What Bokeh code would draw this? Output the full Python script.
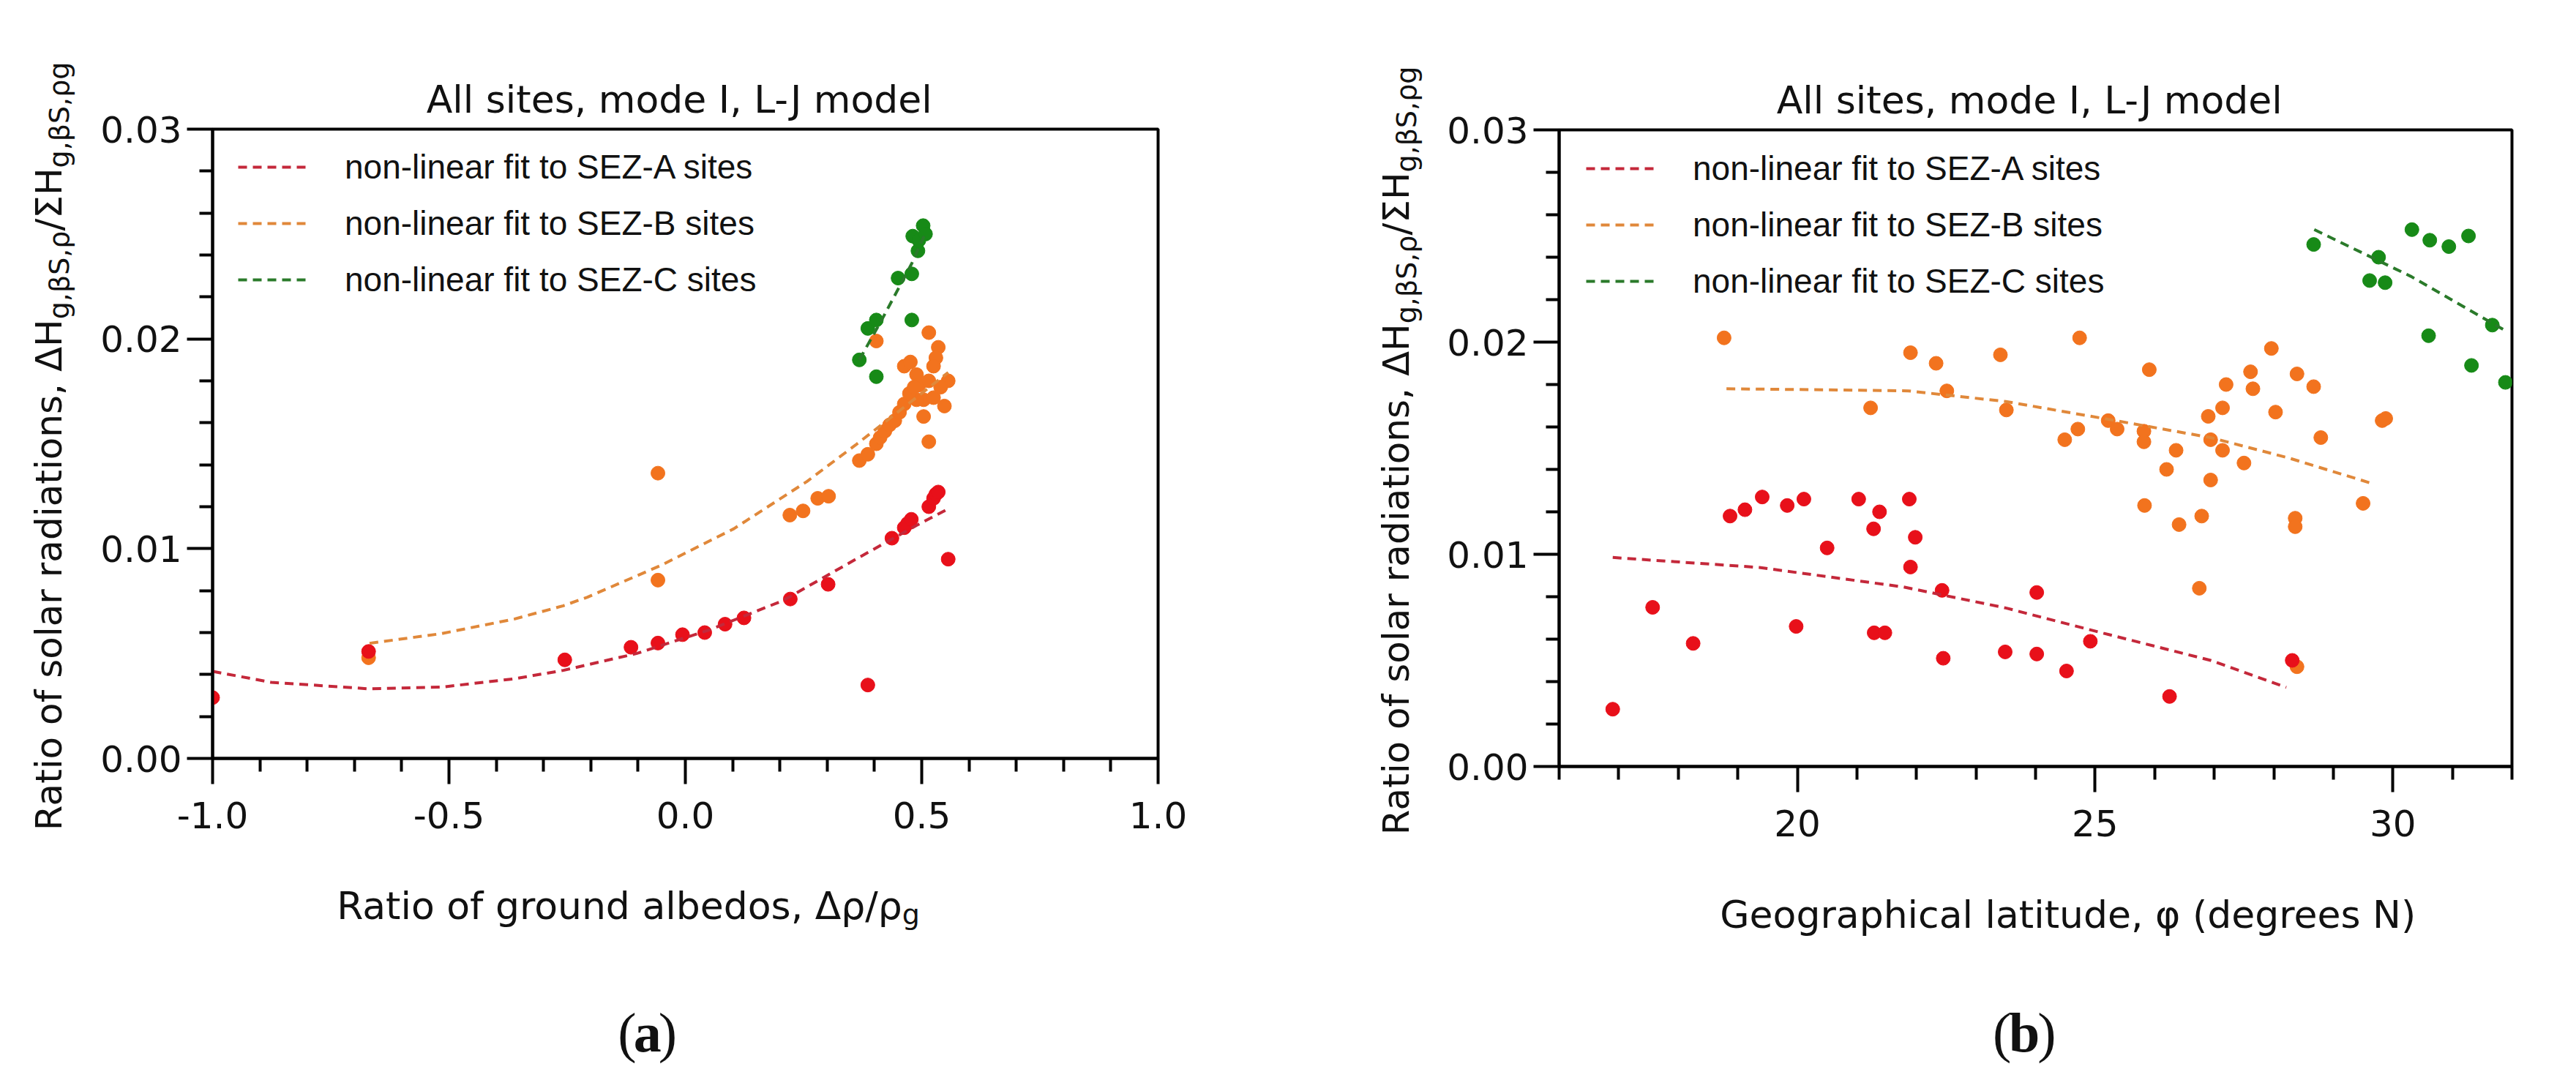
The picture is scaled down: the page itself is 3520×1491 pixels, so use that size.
from math import pi

from bokeh.embed import file_html
from bokeh.layouts import column, row
from bokeh.models import (FixedTicker, Legend, LegendItem,
                          NumeralTickFormatter, Range1d)
from bokeh.core.properties import value
from bokeh.plotting import figure
from bokeh.resources import INLINE

# ---------------- panel (a): ratio of ground albedos ----------------
a_red_x = [-1.0, -0.67, -0.255, -0.115, -0.058, -0.006, 0.041, 0.084, 0.124, 0.222,
           0.302, 0.386, 0.437, 0.463, 0.470, 0.478, 0.515, 0.525, 0.530, 0.535, 0.556]
a_red_y = [0.0029, 0.0051, 0.0047, 0.0053, 0.0055, 0.0059, 0.0060, 0.0064, 0.0067, 0.0076,
           0.0083, 0.0035, 0.0105, 0.0110, 0.0112, 0.0114, 0.0120, 0.0124, 0.0126, 0.0127, 0.0095]
a_orange_x = [-0.67, -0.058, -0.058, 0.221, 0.249, 0.280, 0.303, 0.368, 0.386, 0.404,
              0.412, 0.422, 0.432, 0.443, 0.453, 0.463, 0.463, 0.476, 0.489, 0.494,
              0.515, 0.556, 0.548, 0.504, 0.489, 0.504, 0.515, 0.404, 0.515, 0.535,
              0.530, 0.525, 0.474, 0.484, 0.525, 0.540]
a_orange_y = [0.0048, 0.0136, 0.0085, 0.0116, 0.0118, 0.0124, 0.0125, 0.0142, 0.0145, 0.0150,
              0.0153, 0.0156, 0.0159, 0.0161, 0.0165, 0.0169, 0.0187, 0.0189, 0.0183, 0.0178,
              0.0180, 0.0180, 0.0168, 0.0171, 0.0171, 0.0163, 0.0151, 0.0199, 0.0203, 0.0196,
              0.0191, 0.0187, 0.0174, 0.0177, 0.0172, 0.0177]
a_green_x = [0.368, 0.404, 0.386, 0.404, 0.479, 0.450, 0.479, 0.492, 0.481, 0.494, 0.503, 0.508]
a_green_y = [0.0190, 0.0182, 0.0205, 0.0209, 0.0209, 0.0229, 0.0231, 0.0242, 0.0249, 0.0247,
             0.0254, 0.0250]

a_fit_red_x = [-1.0, -0.876, -0.67, -0.516, -0.361, -0.258, -0.1035, 0.051, 0.206, 0.360, 0.489, 0.556]
a_fit_red_y = [0.00415, 0.00363, 0.00332, 0.0034, 0.0038, 0.0042, 0.0050, 0.00613, 0.00752,
               0.00949, 0.01111, 0.0119]
a_fit_orange_x = [-0.668, -0.516, -0.361, -0.258, -0.207, -0.052, 0.1025, 0.257, 0.360, 0.46, 0.556]
a_fit_orange_y = [0.00549, 0.00595, 0.00665, 0.00728, 0.00769, 0.0092, 0.01095, 0.0132,
                  0.01494, 0.0167, 0.0184]
a_fit_green_x = [0.368, 0.42, 0.479, 0.505]
a_fit_green_y = [0.0190, 0.0211, 0.0236, 0.0249]

# ---------------- panel (b): geographical latitude ----------------
b_red_x = [16.9, 17.57, 18.25, 18.87, 19.12, 19.41, 19.83, 20.11, 19.98, 20.50, 21.03, 21.28,
           21.38, 21.29, 21.47, 21.88, 21.98, 21.90, 22.43, 22.45, 23.49, 24.02, 24.02, 24.52,
           24.92, 26.25, 28.31]
b_red_y = [0.0027, 0.0075, 0.0058, 0.0118, 0.0121, 0.0127, 0.0123, 0.0126, 0.0066, 0.0103,
           0.0126, 0.0112, 0.0120, 0.0063, 0.0063, 0.0126, 0.0108, 0.0094, 0.0083, 0.0051,
           0.0054, 0.0082, 0.0053, 0.0045, 0.0059, 0.0033, 0.0050]
b_orange_x = [18.77, 21.23, 21.90, 22.33, 22.51, 23.41, 23.51, 24.74, 24.49, 24.71, 25.22,
              25.37, 25.91, 25.82, 25.82, 25.83, 26.20, 26.36, 26.41, 26.75, 26.79, 26.90,
              26.94, 26.94, 27.14, 27.14, 27.20, 27.50, 27.61, 27.65, 27.96, 28.03, 28.36,
              28.36, 28.39, 28.39, 28.67, 28.79, 29.50, 29.82, 29.88]
b_orange_y = [0.0202, 0.0169, 0.0195, 0.0190, 0.0177, 0.0194, 0.0168, 0.0202, 0.0154, 0.0159,
              0.0163, 0.0159, 0.0187, 0.0158, 0.0153, 0.0123, 0.0140, 0.0149, 0.0114, 0.0084,
              0.0118, 0.0165, 0.0154, 0.0135, 0.0169, 0.0149, 0.0180, 0.0143, 0.0186, 0.0178,
              0.0197, 0.0167, 0.0117, 0.0113, 0.0185, 0.0047, 0.0179, 0.0155, 0.0124, 0.0163,
              0.0164]
b_green_x = [28.67, 29.76, 29.61, 29.87, 30.32, 30.62, 30.94, 31.27, 30.60, 31.67, 31.32, 31.89]
b_green_y = [0.0246, 0.0240, 0.0229, 0.0228, 0.0253, 0.0248, 0.0245, 0.0250, 0.0203, 0.0208,
             0.0189, 0.0181]

b_fit_red_x = [16.9, 19.36, 21.78, 23.50, 25.14, 26.94, 28.21]
b_fit_red_y = [0.00985, 0.00938, 0.00846, 0.00747, 0.00628, 0.0050, 0.00373]
b_fit_orange_x = [18.81, 20.5, 21.86, 23.5, 25.14, 26.94, 28.25, 29.67]
b_fit_orange_y = [0.0178, 0.01775, 0.0177, 0.0172, 0.0164, 0.0155, 0.01454, 0.01332]
b_fit_green_x = [28.68, 30.30, 31.85]
b_fit_green_y = [0.0253, 0.0231, 0.0206]

# ticks
y_major = [0.0, 0.01, 0.02, 0.03]
y_minor = [0.002, 0.004, 0.006, 0.008, 0.012, 0.014, 0.016, 0.018,
           0.022, 0.024, 0.026, 0.028]
a_x_major = [-1.0, -0.5, 0.0, 0.5, 1.0]
a_x_minor = [-0.9, -0.8, -0.7, -0.6, -0.4, -0.3, -0.2, -0.1,
             0.1, 0.2, 0.3, 0.4, 0.6, 0.7, 0.8, 0.9]
b_x_major = [20, 25, 30]
b_x_minor = [16, 17, 18, 19, 21, 22, 23, 24, 26, 27, 28, 29, 31, 32]

legend_labels = ["non-linear fit to SEZ-A sites",
                 "non-linear fit to SEZ-B sites",
                 "non-linear fit to SEZ-C sites"]
title_text = "All sites, mode  I, L-J model"

RED, ORANGE, GREEN = "#E8101A", "#F2731E", "#178A17"
RED_FIT, ORANGE_FIT, GREEN_FIT = "#C4283A", "#E0883A", "#2A7A2A"
INK = "#111111"

SANS = "Liberation Sans"
WIDE = "DejaVu Sans"
SERIF = "Liberation Serif"

# rough advance widths (em) of DejaVu Sans, only used to butt label pieces together
DEJAVU_EM = {"R": .695, "a": .613, "t": .392, "i": .278, "o": .612, " ": .318, "f": .352,
             "s": .521, "l": .278, "r": .411, "d": .635, "n": .634, ",": .318, "Δ": .684,
             "H": .752, "g": .635, "β": .636, "S": .635, "ρ": .636, "/": .337, "Σ": .632,
             "u": .634, "b": .635, "e": .615}


def text_width(s, size):
    return sum(DEJAVU_EM.get(c, 0.6) for c in s) * size


def strip(width, height):
    # empty figure whose frame is the whole area, used to hold labels
    s = figure(width=width, height=height, x_range=Range1d(0, width), y_range=Range1d(0, height),
               x_axis_type=None, y_axis_type=None,
               min_border_left=0, min_border_right=0, min_border_top=0, min_border_bottom=0,
               output_backend="svg", toolbar_location=None)
    s.grid.visible = False
    s.outline_line_color = None
    return s


def put(s, x, y, text, size, font=WIDE, angle=0, align="left", style="normal"):
    s.text(x=[x], y=[y], text=[text], angle=angle, text_font=value(font),
           text_font_size=f"{size}px", text_font_style=style, text_align=align,
           text_baseline="alphabetic", text_color=INK)


def y_label(s, x0, y_center):
    main, sub1, mid, sub2 = "Ratio of solar radiations, ΔH", "g,βS,ρ", "/ΣH", "g,βS,ρg"
    total = text_width(main, 50) + text_width(sub1, 38) + text_width(mid, 50) + text_width(sub2, 38)
    j1 = y_center - total / 2 + text_width(main, 50)
    j2 = j1 + text_width(sub1, 38)
    j3 = j2 + text_width(mid, 50)
    put(s, x0, j1, main, 50, angle=pi / 2, align="right")
    put(s, x0 + 14, j1, sub1, 38, angle=pi / 2)
    put(s, x0, j2, mid, 50, angle=pi / 2)
    put(s, x0 + 14, j3, sub2, 38, angle=pi / 2)


def caption(s, x_center, y, letter):
    put(s, x_center, y, letter, 76, font=SERIF, style="bold", align="center")
    half = (0.5 if letter == "a" else 0.556) * 76 / 2
    put(s, x_center - half, y, "(", 76, font=SERIF, align="right")
    put(s, x_center + half, y, ")", 76, font=SERIF)


def make_panel(x_range, frame_w, frame_h, left, right, top, bottom,
               x_major, x_minor, x_format):
    p = figure(x_range=x_range, y_range=Range1d(0, 0.03),
               width=left + frame_w + right, height=top + frame_h + bottom,
               frame_width=frame_w, frame_height=frame_h,
               min_border_left=left, min_border_right=right,
               min_border_top=top, min_border_bottom=bottom,
               output_backend="svg", toolbar_location=None)
    p.grid.visible = False
    p.outline_line_color = "black"
    p.outline_line_width = 4
    p.title.text = title_text
    p.title.align = "center"
    p.title.text_font = WIDE
    p.title.text_font_size = "52px"
    p.title.text_font_style = "normal"
    p.title.text_color = INK
    p.title.standoff = 22

    p.xaxis.ticker = FixedTicker(ticks=x_major, minor_ticks=x_minor)
    p.xaxis.formatter = NumeralTickFormatter(format=x_format)
    p.yaxis.ticker = FixedTicker(ticks=y_major, minor_ticks=y_minor)
    p.yaxis.formatter = NumeralTickFormatter(format="0.00")
    for ax in (p.xaxis, p.yaxis):
        ax.axis_line_width = 4
        ax.axis_line_color = "black"
        ax.major_tick_line_width = 4
        ax.minor_tick_line_width = 4
        ax.major_tick_in = 0
        ax.minor_tick_in = 0
        ax.major_tick_out = 35
        ax.minor_tick_out = 18
        ax.major_label_text_font = WIDE
        ax.major_label_text_font_size = "50px"
        ax.major_label_text_color = INK
    p.xaxis.major_label_standoff = 24
    p.yaxis.major_label_standoff = 7
    return p


def draw_series(p, red, orange, green, fits):
    p.scatter(green[0], green[1], size=19, color=GREEN)
    p.scatter(orange[0], orange[1], size=19, color=ORANGE)
    p.scatter(red[0], red[1], size=19, color=RED)
    lines = []
    for (fx, fy), col in zip(fits, (RED_FIT, ORANGE_FIT, GREEN_FIT)):
        lines.append(p.line(fx, fy, line_color=col, line_width=4, line_dash="12 8"))
    return lines


def add_legend(p, lines, x, y):
    items = [LegendItem(label=lab, renderers=[r]) for lab, r in zip(legend_labels, lines)]
    leg = Legend(items=items, location=(x, y), padding=0, margin=0,
                 glyph_width=96, glyph_height=56, label_height=56, spacing=21,
                 label_standoff=50, label_text_font=SANS, label_text_font_size="46px",
                 label_text_color=INK, border_line_color=None, background_fill_alpha=0)
    p.add_layout(leg)


# ----- (a) -----
pa = make_panel(Range1d(-1, 1), 1292, 860, 160, 168, 176, 140,
                a_x_major, a_x_minor, "0.0")
lines_a = draw_series(pa, (a_red_x, a_red_y), (a_orange_x, a_orange_y),
                      (a_green_x, a_green_y),
                      [(a_fit_red_x, a_fit_red_y), (a_fit_orange_x, a_fit_orange_y),
                       (a_fit_green_x, a_fit_green_y)])
add_legend(pa, lines_a, 35, 626)

ya = strip(130, 1470)
y_label(ya, 66, 860)

xa = strip(1620, 294)
xl_main = "Ratio of ground albedos, Δρ/ρ"
xl_join = 806 + (text_width(xl_main, 52) - text_width("g", 38)) / 2
put(xa, xl_join, 233, xl_main, 52, align="right")
put(xa, xl_join, 221, "g", 38)
caption(xa, 745, 60, "a")

# ----- (b) -----
pb = make_panel(Range1d(16, 32), 1302, 870, 160, 68, 177, 140,
                b_x_major, b_x_minor, "0")
lines_b = draw_series(pb, (b_red_x, b_red_y), (b_orange_x, b_orange_y),
                      (b_green_x, b_green_y),
                      [(b_fit_red_x, b_fit_red_y), (b_fit_orange_x, b_fit_orange_y),
                       (b_fit_green_x, b_fit_green_y)])
add_legend(pb, lines_b, 37, 635)

yb = strip(220, 1470)
y_label(yb, 157, 854)

xb = strip(1530, 283)
put(xb, 817, 221, "Geographical latitude, φ (degrees N)", 52, align="center")
caption(xb, 747, 60, "b")

layout = row(ya, column(pa, xa), yb, column(pb, xb))
open("out.html", "w").write(file_html(layout, INLINE))
